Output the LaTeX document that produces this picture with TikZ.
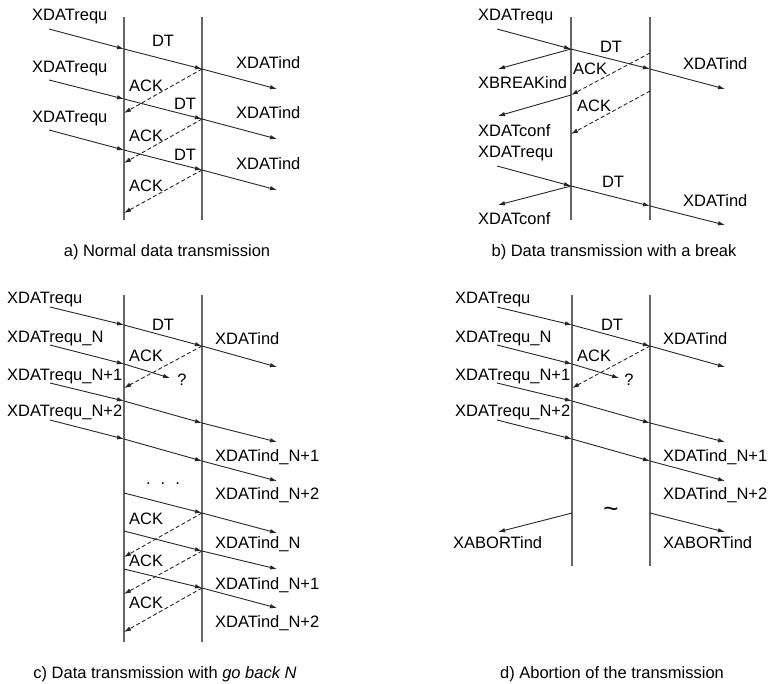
\documentclass[tikz,border=0pt]{standalone}
\usepackage{fontspec}
\setmainfont{Liberation Sans}
\usetikzlibrary{arrows.meta}
\begin{document}
\begin{tikzpicture}[x=1pt,y=-1pt,
  life/.style={line width=1.4pt, draw=black!60},
  msg/.style={line width=0.9pt, draw=black!85, -{Latex[length=7pt,width=4.5pt]}},
  ackmsg/.style={msg, dash pattern=on 4pt off 2.5pt},
  lbl/.style={inner sep=0pt, text height=11.8pt, text depth=0pt, font=\fontsize{16.5}{19}\selectfont},
  wl/.style={lbl, anchor=west},
  capt/.style={lbl}
]
\useasboundingbox[fill=white] (0,0) rectangle (770,683);

% ================= Panel a =================
\coordinate (aL1) at (124,17); \coordinate (aL2) at (124,220);
\coordinate (aR1) at (202,17); \coordinate (aR2) at (202,220);
\draw[life] (aL1) -- (aL2);
\draw[life] (aR1) -- (aR2);
\foreach \i/\ys/\yl/\yr/\ye/\yk in {1/29/49/69/89/113, 2/80/99/119/139/163, 3/130/150/170/190/213}{
  \coordinate (as\i) at (49,\ys);
  \coordinate (al\i) at (124,\yl);
  \coordinate (ar\i) at (202,\yr);
  \coordinate (ae\i) at (277,\ye);
  \coordinate (ak\i) at (124,\yk);
  \draw[msg] (as\i) -- (al\i);
  \draw[msg] (al\i) -- (ar\i);
  \draw[msg] (ar\i) -- (ae\i);
  \draw[ackmsg] (ar\i) -- (ak\i);
}
\foreach \i/\y in {1/15, 2/67, 3/117}{ \node[wl] (areq\i) at (32,\y) {XDATrequ}; }
\foreach \i/\y in {1/63, 2/113, 3/164}{ \node[wl] (aind\i) at (236,\y) {XDATind}; }
\foreach \i/\y in {1/86, 2/136, 3/186}{ \node[wl] (aack\i) at (129,\y) {ACK}; }
\node[lbl] (adt1) at (163,41) {DT};
\node[lbl] (adt2) at (185,104) {DT};
\node[lbl] (adt3) at (185,155) {DT};
\node[capt] (acap) at (167,251) {a) Normal data transmission};

% ================= Panel b =================
\coordinate (bL1) at (571,17); \coordinate (bL2) at (571,220);
\coordinate (bR1) at (650,17); \coordinate (bR2) at (650,220);
\draw[life] (bL1) -- (bL2);
\draw[life] (bR1) -- (bR2);
\coordinate (bs1) at (497,29); \coordinate (bl1) at (571,49);
\coordinate (br1) at (650,69); \coordinate (be1) at (725,89);
\coordinate (bbrk) at (498,69);
\coordinate (bk1a) at (650,53); \coordinate (bk1b) at (571,95);
\coordinate (bc1) at (498,116);
\coordinate (bk2a) at (650,91); \coordinate (bk2b) at (571,134);
\coordinate (bs2) at (497,166); \coordinate (bl2) at (571,186);
\coordinate (br2) at (650,206); \coordinate (be2) at (725,225);
\coordinate (bc2) at (498,205);
\draw[msg] (bs1) -- (bl1);
\draw[msg] (bl1) -- (br1);
\draw[msg] (br1) -- (be1);
\draw[msg] (bl1) -- (bbrk);
\draw[ackmsg] (bk1a) -- (bk1b);
\draw[msg] (bk1b) -- (bc1);
\draw[ackmsg] (bk2a) -- (bk2b);
\draw[msg] (bs2) -- (bl2);
\draw[msg] (bl2) -- (br2);
\draw[msg] (br2) -- (be2);
\draw[msg] (bl2) -- (bc2);
\node[wl] (breq1) at (478,15) {XDATrequ};
\node[lbl] (bdt1) at (611,47) {DT};
\node[wl] (bind1) at (683,64) {XDATind};
\node[wl] (bbrkl) at (478,83) {XBREAKind};
\node[wl] (back1) at (573,69) {ACK};
\node[wl] (back2) at (577,106) {ACK};
\node[wl] (bconf1) at (478,131) {XDATconf};
\node[wl] (breq2) at (478,152) {XDATrequ};
\node[lbl] (bdt2) at (613,182) {DT};
\node[wl] (bind2) at (683,201) {XDATind};
\node[wl] (bconf2) at (478,219) {XDATconf};
\node[capt] (bcap) at (614,251) {b) Data transmission with a break};

% ================= Panel c =================
\coordinate (cL1) at (124,295); \coordinate (cL2) at (124,642);
\coordinate (cR1) at (202,295); \coordinate (cR2) at (202,642);
\draw[life] (cL1) -- (cL2);
\draw[life] (cR1) -- (cR2);
% rows from left
\foreach \i/\ys/\yl/\yr/\ye in {1/307/325/346/367, 3/383/401/423/442, 4/420/439/461/481}{
  \coordinate (cs\i) at (50,\ys);
  \coordinate (cl\i) at (124,\yl);
  \coordinate (cr\i) at (202,\yr);
  \coordinate (ce\i) at (277,\ye);
  \draw[msg] (cs\i) -- (cl\i);
  \draw[msg] (cl\i) -- (cr\i);
  \draw[msg] (cr\i) -- (ce\i);
}
\coordinate (cs2) at (50,345); \coordinate (cl2) at (124,364); \coordinate (cq2) at (170,378);
\draw[msg] (cs2) -- (cl2);
\draw[msg] (cl2) -- (cq2);
\coordinate (ck0) at (124,388);
\draw[ackmsg] (cr1) -- (ck0);
% retransmissions
\foreach \i/\yl/\yr/\ye/\yk in {5/493/513/533/557, 6/531/551/569/594, 7/569/588/608/632}{
  \coordinate (cl\i) at (124,\yl);
  \coordinate (cr\i) at (202,\yr);
  \coordinate (ce\i) at (277,\ye);
  \coordinate (ck\i) at (124,\yk);
  \draw[msg] (cl\i) -- (cr\i);
  \draw[msg] (cr\i) -- (ce\i);
  \draw[ackmsg] (cr\i) -- (ck\i);
}
\node[wl] (creq1) at (7,298) {XDATrequ};
\node[wl] (creq2) at (7,337) {XDATrequ\_N};
\node[wl] (creq3) at (7,375) {XDATrequ\_N+1};
\node[wl] (creq4) at (7,411) {XDATrequ\_N+2};
\node[lbl] (cdt1) at (163,325) {DT};
\node[wl] (cind1) at (215,339) {XDATind};
\node[wl] (cack0) at (129,356) {ACK};
\node[lbl] (cq) at (182,380) {?};
\node[wl] (cind3) at (215,456) {XDATind\_N+1};
\node[wl] (cind4) at (215,494) {XDATind\_N+2};
\node[lbl, anchor=base] (cdots) at (163,484) {.\hspace{10pt}.\hspace{10pt}.};
\node[wl] (cack5) at (129,519) {ACK};
\node[wl] (cack6) at (129,561) {ACK};
\node[wl] (cack7) at (129,603) {ACK};
\node[wl] (cind5) at (215,543) {XDATind\_N};
\node[wl] (cind6) at (215,584) {XDATind\_N+1};
\node[wl] (cind7) at (215,622) {XDATind\_N+2};
\node[capt] (ccap) at (165,673) {c) Data transmission with \textit{go back N}};

% ================= Panel d =================
\coordinate (dL1) at (572,295); \coordinate (dL2) at (572,566);
\coordinate (dR1) at (650,295); \coordinate (dR2) at (650,566);
\draw[life] (dL1) -- (dL2);
\draw[life] (dR1) -- (dR2);
\foreach \i/\ys/\yl/\yr/\ye in {1/307/325/346/367, 3/383/401/423/442, 4/420/439/461/481}{
  \coordinate (ds\i) at (497,\ys);
  \coordinate (dl\i) at (572,\yl);
  \coordinate (dr\i) at (650,\yr);
  \coordinate (de\i) at (725,\ye);
  \draw[msg] (ds\i) -- (dl\i);
  \draw[msg] (dl\i) -- (dr\i);
  \draw[msg] (dr\i) -- (de\i);
}
\coordinate (ds2) at (497,345); \coordinate (dl2) at (572,364); \coordinate (dq2) at (619,378);
\draw[msg] (ds2) -- (dl2);
\draw[msg] (dl2) -- (dq2);
\coordinate (dk0) at (572,388);
\draw[ackmsg] (dr1) -- (dk0);
\coordinate (dab1) at (572,513); \coordinate (dab1e) at (498,532);
\coordinate (dab2) at (650,513); \coordinate (dab2e) at (725,532);
\draw[msg] (dab1) -- (dab1e);
\draw[msg] (dab2) -- (dab2e);
\node[wl] (dreq1) at (455,298) {XDATrequ};
\node[wl] (dreq2) at (455,337) {XDATrequ\_N};
\node[wl] (dreq3) at (455,375) {XDATrequ\_N+1};
\node[wl] (dreq4) at (455,411) {XDATrequ\_N+2};
\node[lbl] (ddt1) at (612,325) {DT};
\node[wl] (dind1) at (663,339) {XDATind};
\node[wl] (dack0) at (577,356) {ACK};
\node[lbl] (dq) at (629,380) {?};
\node[wl] (dind3) at (663,456) {XDATind\_N+1};
\node[wl] (dind4) at (663,494) {XDATind\_N+2};
\node[inner sep=0pt, font=\fontsize{26}{28}\selectfont] (dtilde) at (611,512) {\textasciitilde};
\node[wl] (dabl1) at (453,543) {XABORTind};
\node[wl] (dabl2) at (663,543) {XABORTind};
\node[capt] (dcap) at (612,673) {d) Abortion of the transmission};
\end{tikzpicture}
\end{document}
